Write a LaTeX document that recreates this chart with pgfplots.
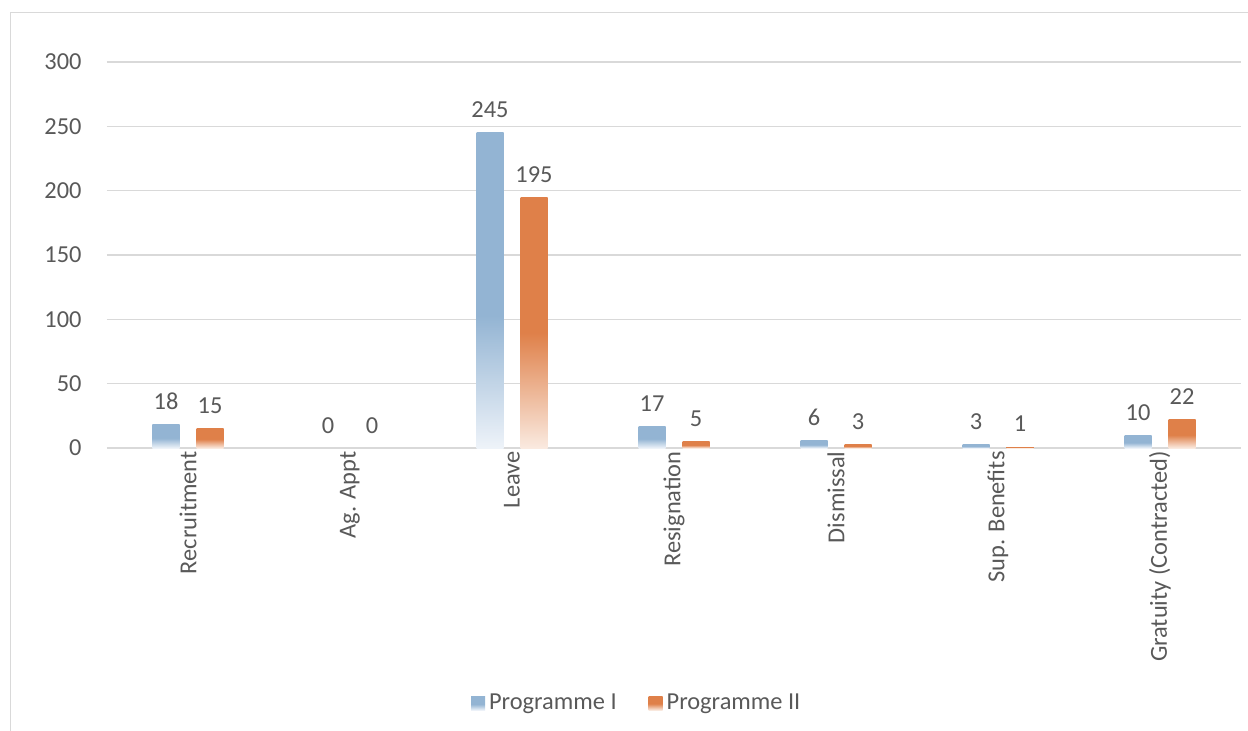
\documentclass[border=0pt]{standalone}
\usepackage{fontspec}
\setmainfont{Carlito}
\usepackage{pgfplots}
\pgfplotsset{compat=1.18}
\definecolor{txt}{HTML}{595959}
\definecolor{bdark}{HTML}{93B4D3}
\definecolor{blight}{HTML}{EEF3F9}
\definecolor{odark}{HTML}{DF8049}
\definecolor{olight}{HTML}{FAEAE0}
\definecolor{gridc}{HTML}{D9D9D9}
\definecolor{framec}{HTML}{D9D9D9}
\pgfdeclareverticalshading{bshade}{100bp}{color(0bp)=(blight); color(25bp)=(blight); color(46bp)=(bdark); color(100bp)=(bdark)}
\pgfdeclareverticalshading{oshade}{100bp}{color(0bp)=(olight); color(25bp)=(olight); color(48bp)=(odark); color(100bp)=(odark)}
\newcommand{\cfont}{\fontsize{12.2}{14}\selectfont}
\pgfplotsset{
  bb/.style={bar shift=-11pt, draw=none, shading=bshade},
  oo/.style={bar shift=11pt, draw=none, shading=oshade},
  bz/.style={bar shift=-11pt, draw=none, fill=none},
  oz/.style={bar shift=11pt, draw=none, fill=none},
}
\begin{document}
\begin{tikzpicture}[x=1pt,y=1pt]
\draw[framec, line width=0.8pt] (5.3,-380) -- (5.3,-6.2) -- (640,-6.2);
\begin{axis}[
  at={(53.5pt,-224pt)}, anchor=south west,
  scale only axis, width=567pt, height=193pt,
  xmin=-0.5, xmax=6.5, ymin=0, ymax=300,
  xtick={0,1,2,3,4,5,6},
  xticklabels={Recruitment, Ag. Appt, Leave, Resignation, Dismissal, Sup. Benefits, Gratuity (Contracted)},
  ytick={0,50,100,150,200,250,300},
  major tick length=0pt,
  axis lines*=left,
  x axis line style={draw=gridc, line width=0.8pt},
  y axis line style={draw=none},
  ymajorgrids, grid style={draw=gridc, line width=0.7pt},
  /pgf/number format/assume math mode=true,
  tick label style={font=\cfont, text=txt},
  xticklabel style={yshift=-1.5pt, rotate=90, anchor=east, inner sep=0pt},
  yticklabel style={anchor=east, inner sep=0pt, xshift=-12.5pt},
  ybar, bar width=13.5pt,
  nodes near coords,
  every node near coord/.append style={font=\cfont, text=txt, anchor=base, inner sep=0pt, yshift=7.5pt},
  legend style={at={(0.468,-0.661)}, anchor=center, draw=none, fill=none, legend columns=2, font=\cfont, text=txt,
    /tikz/every even column/.append style={column sep=14pt}},
  legend image code/.code={\path[#1] (0pt,-3.5pt) rectangle (7pt,3.5pt);},
]
% Programme I
\addplot[bb] coordinates {(0,18)};
\addplot[bz, forget plot] coordinates {(1,0)};
\addplot[bb, forget plot] coordinates {(2,245)};
\addplot[bb, forget plot] coordinates {(3,17)};
\addplot[bb, forget plot] coordinates {(4,6)};
\addplot[bb, forget plot] coordinates {(5,3)};
\addplot[bb, forget plot] coordinates {(6,10)};
% Programme II
\addplot[oo] coordinates {(0,15)};
\addplot[oz, forget plot] coordinates {(1,0)};
\addplot[oo, forget plot] coordinates {(2,195)};
\addplot[oo, forget plot] coordinates {(3,5)};
\addplot[oo, forget plot] coordinates {(4,3)};
\addplot[oo, forget plot] coordinates {(5,1)};
\addplot[oo, forget plot] coordinates {(6,22)};
\legend{Programme I, Programme II}
\end{axis}
\pgfresetboundingbox
\useasboundingbox (0,0) rectangle (624,-365.5);
\end{tikzpicture}
\end{document}
